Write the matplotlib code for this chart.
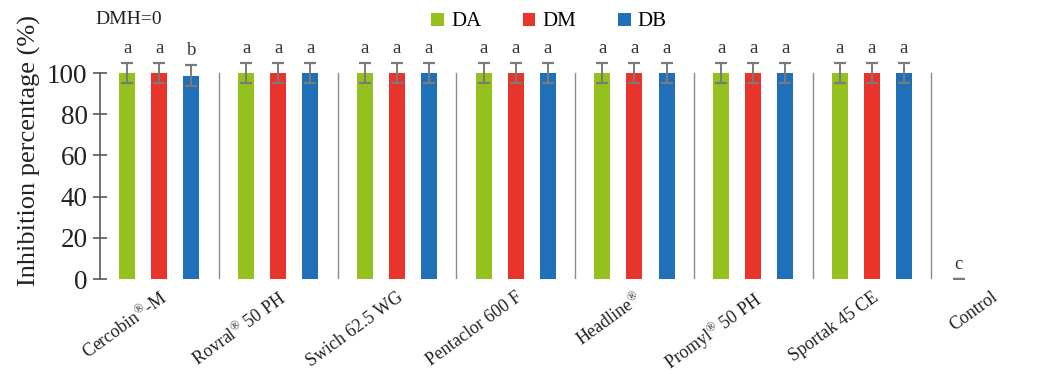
import matplotlib
matplotlib.use("Agg")
import matplotlib.pyplot as plt
import numpy as np
from matplotlib.patches import Patch

plt.rcParams['font.family'] = ['Liberation Serif', 'DejaVu Serif']
plt.rcParams['mathtext.fontset'] = 'custom'
plt.rcParams['mathtext.rm'] = 'Liberation Serif'
plt.rcParams['mathtext.it'] = 'Liberation Serif'

categories = [r"Cercobin$^{®}$-M", r"Rovral$^{®}$ 50 PH", "Swich 62.5 WG", "Pentaclor 600 F",
              r"Headline$^{®}$", r"Promyl$^{®}$ 50 PH", "Sportak 45 CE", "Control"]
series = ["DA", "DM", "DB"]
colors = ["#95C11F", "#E8342A", "#1F70B8"]

da = [100, 100, 100, 100, 100, 100, 100, 0]
dm = [100, 100, 100, 100, 100, 100, 100, 0]
db = [98.7, 100, 100, 100, 100, 100, 100, 0]
da_err = [5, 5, 5, 5, 5, 5, 5, 0]
dm_err = [5, 5, 5, 5, 5, 5, 5, None]
db_err = [5, 5, 5, 5, 5, 5, 5, None]
da_lab = ["a", "a", "a", "a", "a", "a", "a", "c"]
dm_lab = ["a", "a", "a", "a", "a", "a", "a", ""]
db_lab = ["b", "a", "a", "a", "a", "a", "a", ""]

values = [da, dm, db]
errors = [da_err, dm_err, db_err]
labels = [da_lab, dm_lab, db_lab]

fig = plt.figure(figsize=(10.43, 3.74), dpi=100)
ax = fig.add_axes([0.0959, 0.254, 0.9041, 0.6885])

x = np.arange(len(categories))
w = 0.135
off = 0.27
grey = "#7a7a7a"
for k in range(3):
    xs = x + (k - 1) * off
    ax.bar(xs, values[k], width=w, color=colors[k], zorder=2)
    for i in range(len(categories)):
        e = errors[k][i]
        if e is None:
            continue
        ax.errorbar(xs[i], values[k][i], yerr=e, fmt='none', ecolor=grey,
                    elinewidth=1.4, capsize=4.5, capthick=1.6, zorder=3)
        top = values[k][i] + e
        ax.text(xs[i], top + 3.0, labels[k][i], ha='center', va='bottom',
                fontsize=13.5, color='#333333')

for i in range(len(categories) - 1):
    ax.plot([i + 0.5, i + 0.5], [0, 100], color="#8c8c8c", lw=1.0, zorder=1)

ax.set_xlim(-0.5, 7.44)
ax.set_ylim(0, 125)
ax.set_yticks([0, 20, 40, 60, 80, 100])
for s in ['top', 'right', 'bottom']:
    ax.spines[s].set_visible(False)
ax.spines['left'].set_bounds(0, 100)
ax.spines['left'].set_color("#595959")
ax.spines['left'].set_linewidth(1.2)
ax.tick_params(axis='y', direction='inout', length=10, width=1.2, color="#595959",
               labelsize=19.5, labelcolor='#222222', pad=4)
ax.tick_params(axis='x', length=0, pad=7)
ax.set_xticks(x)
ax.set_xticklabels(categories, rotation=36, ha='right', rotation_mode='anchor',
                   fontsize=13, color='#222222')
ax.set_ylabel("Inhibition percentage (%)", fontsize=19, color='#222222', labelpad=4)

fig.text(95 / 1043, 1 - 20 / 374, "DMH=0", fontsize=14, va='center', ha='left', color='#222222')

handles = [Patch(facecolor=c) for c in colors]
fig.legend(handles, series, loc='center', bbox_to_anchor=(549 / 1043, 1 - 22 / 374),
           ncol=3, frameon=False, fontsize=15, handlelength=0.6, handleheight=0.6,
           columnspacing=2.0, handletextpad=0.35)

fig.savefig("out.png", dpi=100)
